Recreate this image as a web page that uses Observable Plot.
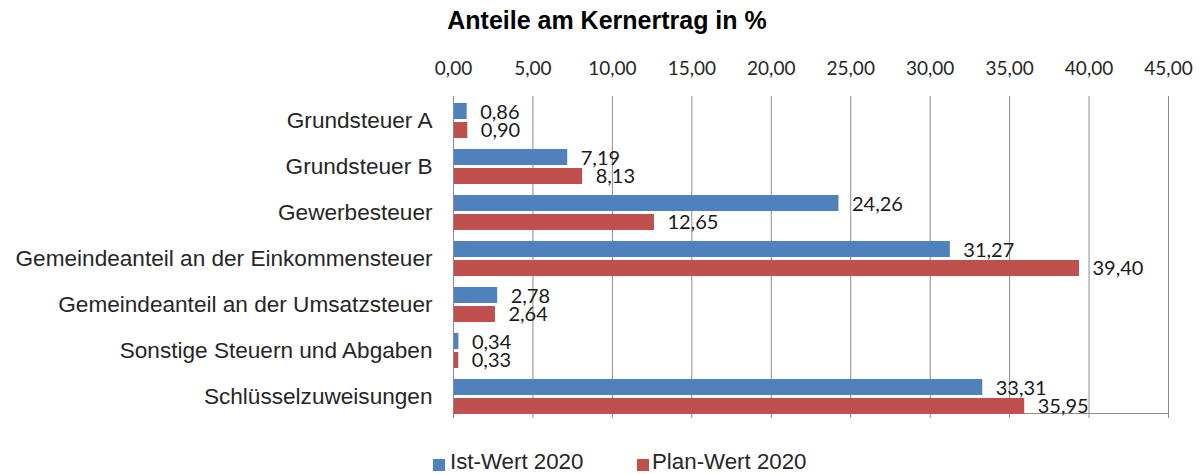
<!DOCTYPE html>
<html>
<head>
<meta charset="utf-8">
<script src="https://cdn.jsdelivr.net/npm/d3@7"></script>
<script src="https://cdn.jsdelivr.net/npm/@observablehq/plot@0.6"></script>
<style>
  html, body { margin: 0; padding: 0; background: #fff; }
  #wrap { width: 1203px; height: 474px; position: relative; overflow: hidden; }
  #title { height: 44px; line-height: 44px; text-align: center; padding-left: 11px; padding-top: 0;
    font: bold 25px "Liberation Sans", Arial, sans-serif; color: #000; position: relative; top: 6px; }
  #chart { position: absolute; top: 44px; left: 0; }
  #chart svg { display: block; }
  #legend { position: absolute; top: 446px; left: 0; width: 1203px; height: 28px;
    font: 22.3px "Liberation Sans", Arial, sans-serif; color: #262626; }
  .item { position: absolute; top: 0; line-height: 32px; white-space: nowrap; }
  .sw { position: absolute; width: 12px; height: 12px; top: 13px; }
  g[aria-label="y-axis tick label"] text { font-family: "Liberation Sans", Arial, sans-serif !important; font-size: 22.6px !important; fill: #262626; }
  g[aria-label="x-axis tick label"] text { font-family: Lato, sans-serif; font-size: 19px; fill: #262626; }
  g.vlab text { font-family: Lato, sans-serif; font-size: 20px; fill: #1a1a1a; }
</style>
</head>
<body>
<div id="wrap">
  <div id="title">Anteile am Kernertrag in %</div>
  <div id="chart"></div>
  <div id="legend"></div>
</div>
<script>
const categories = [
  "Grundsteuer A",
  "Grundsteuer B",
  "Gewerbesteuer",
  "Gemeindeanteil an der Einkommensteuer",
  "Gemeindeanteil an der Umsatzsteuer",
  "Sonstige Steuern und Abgaben",
  "Schlüsselzuweisungen"
];
const istWert2020 = [0.86, 7.19, 24.26, 31.27, 2.78, 0.34, 33.31];
const planWert2020 = [0.90, 8.13, 12.65, 39.40, 2.64, 0.33, 35.95];
const seriesNames = ["Ist-Wert 2020", "Plan-Wert 2020"];
const seriesColors = ["#4F81BD", "#C0504D"];
const xTicks = [0, 5, 10, 15, 20, 25, 30, 35, 40, 45];

const rows = categories.map((c, i) => ({cat: c, ist: istWert2020[i], plan: planWert2020[i]}));
const fmt = v => v.toFixed(2).replace(".", ",");
const grid = "#8c8c8c";

const W = 1203, H = 400, mTop = 52, mBottom = 31;

const chart = Plot.plot({
  width: W,
  height: H,
  marginLeft: 453,
  marginRight: 35,
  marginTop: mTop,
  marginBottom: mBottom,
  style: {fontFamily: "Lato, sans-serif", background: "#fff", overflow: "visible"},
  x: {domain: [0, 45], axis: null},
  y: {domain: categories, range: [53, 375], padding: 0, axis: null},
  marks: [
    Plot.gridX(xTicks, {stroke: grid, strokeOpacity: 1, strokeWidth: 1}),
    Plot.frame({anchor: "bottom", stroke: grid, strokeWidth: 1}),
    Plot.axisX({anchor: "bottom", ticks: xTicks, tickSize: 5, tickFormat: () => "", stroke: grid, strokeOpacity: 1, label: null}),
    Plot.axisX({anchor: "top", ticks: xTicks, tickSize: 0, tickPadding: 22, tickFormat: fmt, fontSize: 19, label: null}),
    Plot.axisY({anchor: "left", tickSize: 0, tickPadding: 21, fontSize: 22.6, label: null, fontFamily: "Liberation Sans, Arial, sans-serif"}),
    Plot.barX(rows, {x: "ist", y: "cat", fill: seriesColors[0], insetTop: 6, insetBottom: 24}),
    Plot.barX(rows, {x: "plan", y: "cat", fill: seriesColors[1], insetTop: 25, insetBottom: 5}),
    Plot.ruleX([0], {stroke: grid, strokeWidth: 1}),
    Plot.text(rows, {x: "ist", y: "cat", text: d => fmt(d.ist), dx: 13, dy: -8, textAnchor: "start", className: "vlab", fontSize: 20}),
    Plot.text(rows, {x: "plan", y: "cat", text: d => fmt(d.plan), dx: 13, dy: 10, textAnchor: "start", className: "vlab", fontSize: 20})
  ]
});
document.getElementById("chart").appendChild(chart);

// legend
const legend = document.getElementById("legend");
const legendPos = [[433, 450], [637, 652]];
seriesNames.forEach((name, i) => {
  const sw = document.createElement("div");
  sw.className = "sw";
  sw.style.left = legendPos[i][0] + "px";
  sw.style.background = seriesColors[i];
  legend.appendChild(sw);
  const t = document.createElement("div");
  t.className = "item";
  t.style.left = legendPos[i][1] + "px";
  t.textContent = name;
  legend.appendChild(t);
});
</script>
</body>
</html>
